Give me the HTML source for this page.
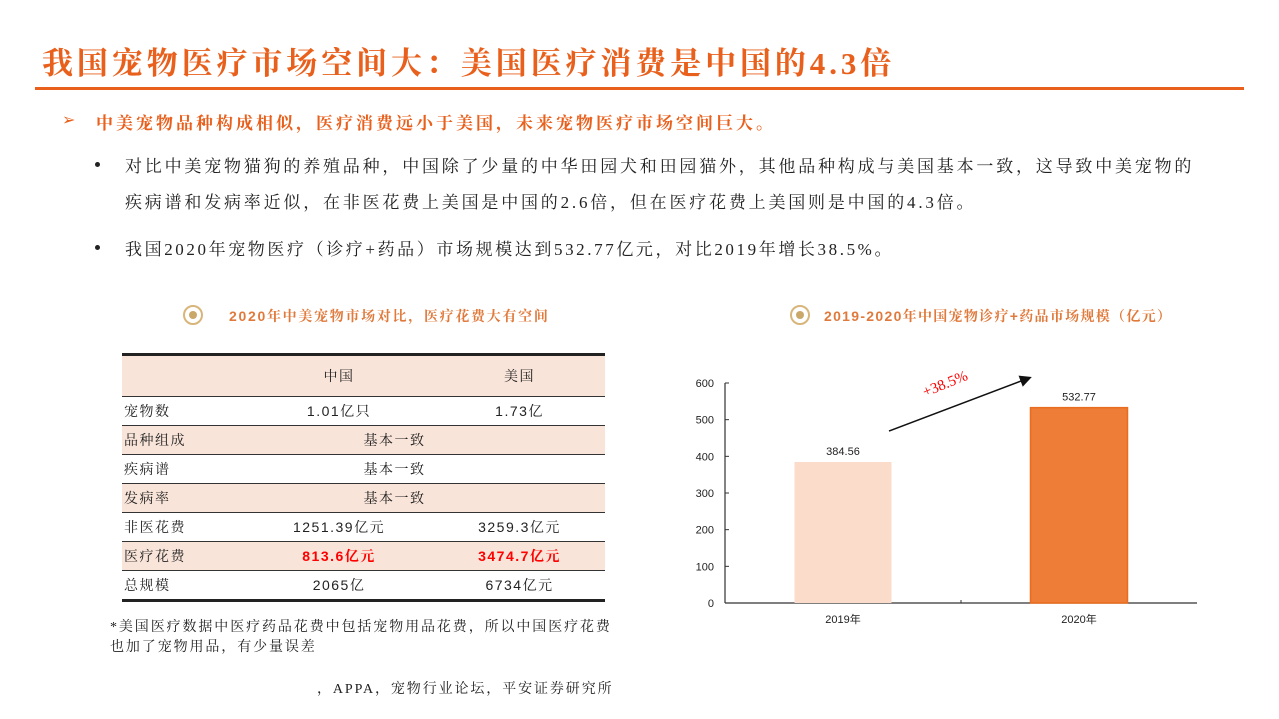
<!DOCTYPE html>
<html><head><meta charset="utf-8">
<style>
body{margin:0;width:1279px;height:719px;background:#fff;position:relative;overflow:hidden;font-family:"Liberation Sans","Noto Serif CJK SC",serif;}
.a{position:absolute;white-space:nowrap;}
.title{left:42px;top:38px;font-size:31px;color:#e8601c;font-family:"Liberation Serif","Noto Serif CJK SC",serif;font-weight:bold;letter-spacing:3.9px;}
.rule{left:35px;top:87px;width:1209px;height:3px;background:#e8601c;}
.sub{left:96px;top:109px;font-size:17px;color:#e8601c;font-weight:bold;letter-spacing:3px;font-family:"Liberation Serif","Noto Serif CJK SC",serif;}
.body{font-size:17px;color:#222;letter-spacing:2.8px;font-family:"Liberation Serif","Noto Serif CJK SC",serif;}
.ct{font-size:14px;color:#e07a3c;font-weight:bold;font-family:"Liberation Sans","Noto Serif CJK SC",serif;}
.dot{width:16px;height:16px;border:2px solid #d8b67a;border-radius:50%;}
.dot::after{content:"";position:absolute;left:4px;top:4px;width:8px;height:8px;border-radius:50%;background:#c9a86a;}
.bd{width:5px;height:5px;border-radius:50%;background:#222;}
table{position:absolute;left:122px;top:353px;width:483px;border-collapse:collapse;font-size:14px;font-family:"Liberation Sans","Noto Serif CJK SC",serif;color:#222;letter-spacing:1.5px;}
td{height:28px;padding:0;border-bottom:1.5px solid #333;text-align:center;}
td.l{text-align:left;padding-left:2px;width:120px;}
tr.t td{background:#f9e4d9;}
.red{color:#f00;font-weight:bold;}
.note{font-size:14px;color:#222;line-height:20px;font-family:'Liberation Serif','Noto Serif CJK SC',serif;letter-spacing:1.9px;}
</style></head><body>
<div class="a title">我国宠物医疗市场空间大：美国医疗消费是中国的4.3倍</div>
<div class="a rule"></div>
<div class="a" style="left:62px;top:110px;color:#e8601c;font-size:16px">➢</div>
<div class="a sub">中美宠物品种构成相似，医疗消费远小于美国，未来宠物医疗市场空间巨大。</div>
<div class="a bd" style="left:95px;top:162px"></div>
<div class="a body" style="left:125px;top:152px">对比中美宠物猫狗的养殖品种，中国除了少量的中华田园犬和田园猫外，其他品种构成与美国基本一致，这导致中美宠物的</div>
<div class="a body" style="left:125px;top:188px">疾病谱和发病率近似，在非医花费上美国是中国的2.6倍，但在医疗花费上美国则是中国的4.3倍。</div>
<div class="a bd" style="left:95px;top:245px"></div>
<div class="a body" style="left:125px;top:235px;letter-spacing:2.6px">我国2020年宠物医疗（诊疗+药品）市场规模达到532.77亿元，对比2019年增长38.5%。</div>

<div class="a dot" style="left:183px;top:305px"></div>
<div class="a ct" style="left:229px;top:306px;letter-spacing:1.7px">2020年中美宠物市场对比，医疗花费大有空间</div>
<table style="border-top:3px solid #222;">
<tr class="t"><td class="l" style="height:40px"></td><td>中国</td><td>美国</td></tr>
<tr><td class="l">宠物数</td><td>1.01亿只</td><td>1.73亿</td></tr>
<tr class="t"><td class="l">品种组成</td><td colspan="2" style="padding-right:60px">基本一致</td></tr>
<tr><td class="l">疾病谱</td><td colspan="2" style="padding-right:60px">基本一致</td></tr>
<tr class="t"><td class="l">发病率</td><td colspan="2" style="padding-right:60px">基本一致</td></tr>
<tr><td class="l">非医花费</td><td>1251.39亿元</td><td>3259.3亿元</td></tr>
<tr class="t"><td class="l">医疗花费</td><td class="red">813.6亿元</td><td class="red">3474.7亿元</td></tr>
<tr><td class="l" style="border-bottom:3px solid #222">总规模</td><td style="border-bottom:3px solid #222">2065亿</td><td style="border-bottom:3px solid #222">6734亿元</td></tr>
</table>
<div class="a note" style="left:110px;top:618px">*美国医疗数据中医疗药品花费中包括宠物用品花费，所以中国医疗花费<br>也加了宠物用品，有少量误差</div>
<div class="a note" style="left:317px;top:680px">，APPA，宠物行业论坛，平安证券研究所</div>

<div class="a dot" style="left:790px;top:305px"></div>
<div class="a ct" style="left:824px;top:306px;letter-spacing:1.3px">2019-2020年中国宠物诊疗+药品市场规模（亿元）</div>

<svg class="a" style="left:0;top:0" width="1279" height="719" id="chart"></svg>
<script>
const categories=["2019年","2020年"];
const values=[384.56,532.77];
const valueLabels=["384.56","532.77"];
const yTicks=[0,100,200,300,400,500,600];
const colors=["#fbdccb","#ed7d37"];
const svg=document.getElementById('chart');
const NS="http://www.w3.org/2000/svg";
const x0=725,x1=1197,yb=603,yt=383,ymax=600;
const y=v=>yb-(v/ymax)*(yb-yt);
const bandW=(x1-x0)/categories.length;
const xc=i=>x0+bandW*(i+0.5);
function mk(t,a){const e=document.createElementNS(NS,t);for(const k in a)e.setAttribute(k,a[k]);svg.appendChild(e);return e;}
const ax=mk('line',{x1:x0,y1:yt,x2:x0,y2:yb,stroke:'#333','stroke-width':1.2});


const bx=mk('line',{x1:x0,y1:yb,x2:x1,y2:yb,stroke:'#333','stroke-width':1.2});


mk('line',{x1:x0+bandW,y1:yb,x2:x0+bandW,y2:yb-3,stroke:'#333'});
yTicks.forEach(t=>{
 mk('line',{x1:x0,y1:y(t),x2:x0+4,y2:y(t),stroke:'#333'});
 const tx=mk('text',{x:x0-11,y:y(t)+4,'text-anchor':'end','font-size':11,'font-family':'Liberation Sans',fill:'#222'});
 tx.textContent=t;
 
 
});
const bw=97;
categories.forEach((c,i)=>{
 const r=mk('rect',{x:xc(i)-bw/2,y:y(values[i]),width:bw,height:yb-y(values[i]),fill:colors[i]});
 if(i==1){r.setAttribute('stroke','#e96d1f');r.setAttribute('stroke-width',1.5);}
 
 
 const vl=mk('text',{x:xc(i),y:y(values[i])-7,'text-anchor':'middle','font-size':11,'font-family':'Liberation Sans',fill:'#222'});
 vl.textContent=valueLabels[i];
 
 
 const cl=mk('text',{x:xc(i),y:yb+20,'text-anchor':'middle','font-size':11,'font-family':'Liberation Sans, Noto Sans CJK SC, sans-serif',fill:'#222'});
 cl.textContent=c;
 
 
});
const defs=mk('defs',{});
defs.innerHTML='<marker id="ah" markerWidth="8" markerHeight="8" refX="6" refY="4" orient="auto"><path d="M0,0 L8,4 L0,8 z" fill="#111"/></marker>';
const ar=mk('line',{x1:889,y1:431,x2:1029,y2:378,stroke:'#111','stroke-width':1.5,'marker-end':'url(#ah)'});


const gl=mk('text',{x:925,y:397,'font-size':15,'font-family':'Liberation Serif',fill:'#f00',transform:'rotate(-22 925 397)'});
gl.textContent='+38.5%';


</script>
</body></html>
